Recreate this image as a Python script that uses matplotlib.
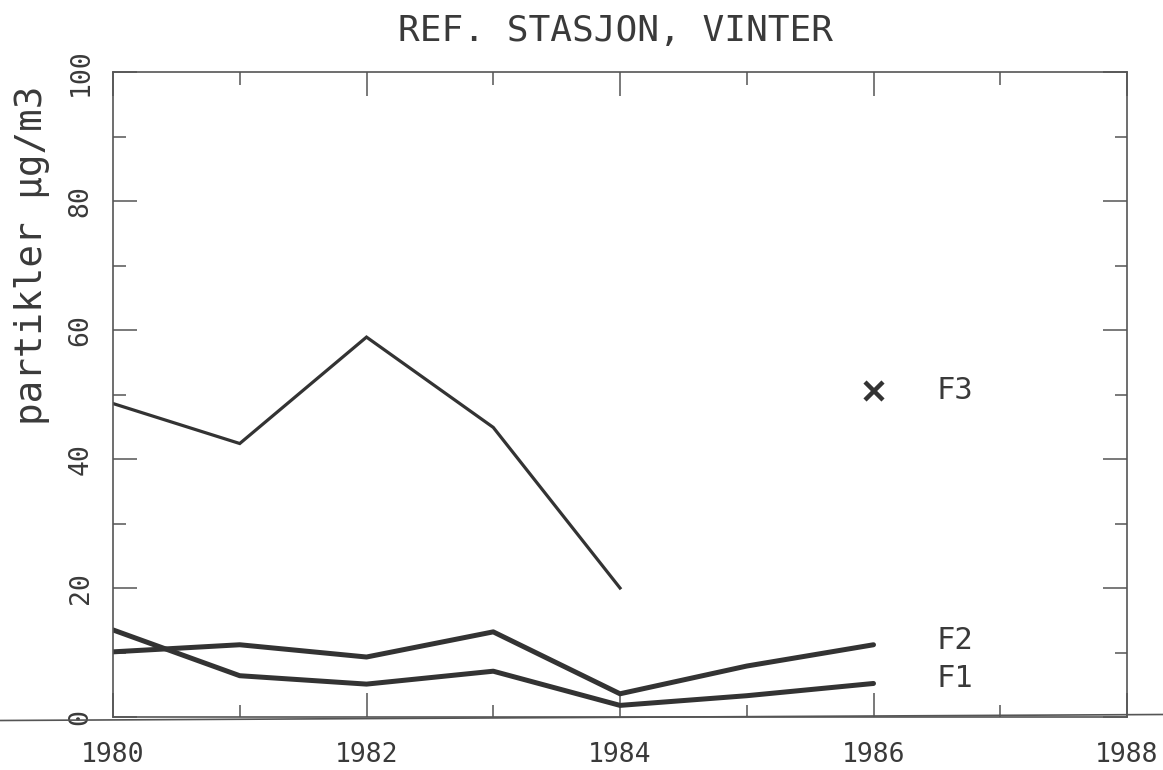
import matplotlib.pyplot as plt
from matplotlib.lines import Line2D
from matplotlib.ticker import MultipleLocator

# winter particle concentrations at the reference station
years = [1980, 1981, 1982, 1983, 1984, 1985, 1986]
f1 = [13.5, 6.4, 5.1, 7.1, 1.8, 3.3, 5.2]
f2 = [10.1, 11.2, 9.3, 13.2, 3.6, 7.9, 11.2]
f3_years = [1980, 1981, 1982, 1983, 1984]
f3 = [48.6, 42.4, 58.9, 44.9, 20.0]
f3_1986 = 50.6

x_ticks = [1980, 1982, 1984, 1986, 1988]
y_ticks = [0, 20, 40, 60, 80, 100]

ink = "#333333"
txt = "#3a3a3a"
mono = "DejaVu Sans Mono"

W, H = 1163, 770
fig = plt.figure(figsize=(W / 100, H / 100), dpi=100)
ax = fig.add_axes([113 / W, 1 - 717 / H, (1127 - 113) / W, (717 - 72) / H])

ax.plot(f3_years, f3, color=ink, lw=2.3, solid_joinstyle="miter")
ax.plot(years, f2, color=ink, lw=3.6, solid_capstyle="round")
ax.plot(years, f1, color=ink, lw=3.6, solid_capstyle="round")
ax.plot([1986], [f3_1986], marker="x", ms=13, mew=3.2, color=ink, ls="none")

ax.text(1986.5, f3_1986, "F3", fontsize=22, family=mono, color=txt, va="center", ha="left")
ax.text(1986.5, 11.8, "F2", fontsize=22, family=mono, color=txt, va="center", ha="left")
ax.text(1986.5, 6.0, "F1", fontsize=22, family=mono, color=txt, va="center", ha="left")

ax.set_xlim(1980, 1988)
ax.set_ylim(0, 100)
ax.set_xticks(x_ticks)
ax.set_yticks(y_ticks)
ax.xaxis.set_minor_locator(MultipleLocator(1))
ax.yaxis.set_minor_locator(MultipleLocator(10))

for s in ax.spines.values():
    s.set_color("#555555")
    s.set_linewidth(1.2)

ax.tick_params(which="both", direction="in", top=True, right=True, color="#555555", width=1.1)
ax.tick_params(which="major", length=17.5)
ax.tick_params(which="minor", length=9)
ax.tick_params(axis="x", which="major", labelsize=19, labelcolor=txt, pad=18)
ax.tick_params(axis="y", which="major", labelsize=19, labelcolor=txt, pad=14, labelrotation=90)
for lab in ax.get_xticklabels() + ax.get_yticklabels():
    lab.set_family(mono)
for lab in ax.get_yticklabels():
    lab.set_verticalalignment("center")

fig.text(616 / W, 1 - 31 / H, "REF. STASJON, VINTER", fontsize=26, family=mono,
         color=txt, ha="center", va="center")
fig.text(32 / W, 1 - 255 / H, "partikler µg/m3", fontsize=27, family=mono,
         color=txt, ha="center", va="center", rotation=90)

# base line running across the whole sheet
fig.add_artist(Line2D([0, 1], [1 - 720.5 / H, 1 - 714.5 / H], color="#555555", lw=1.2))

fig.savefig("out.png", dpi=100, facecolor="white")
